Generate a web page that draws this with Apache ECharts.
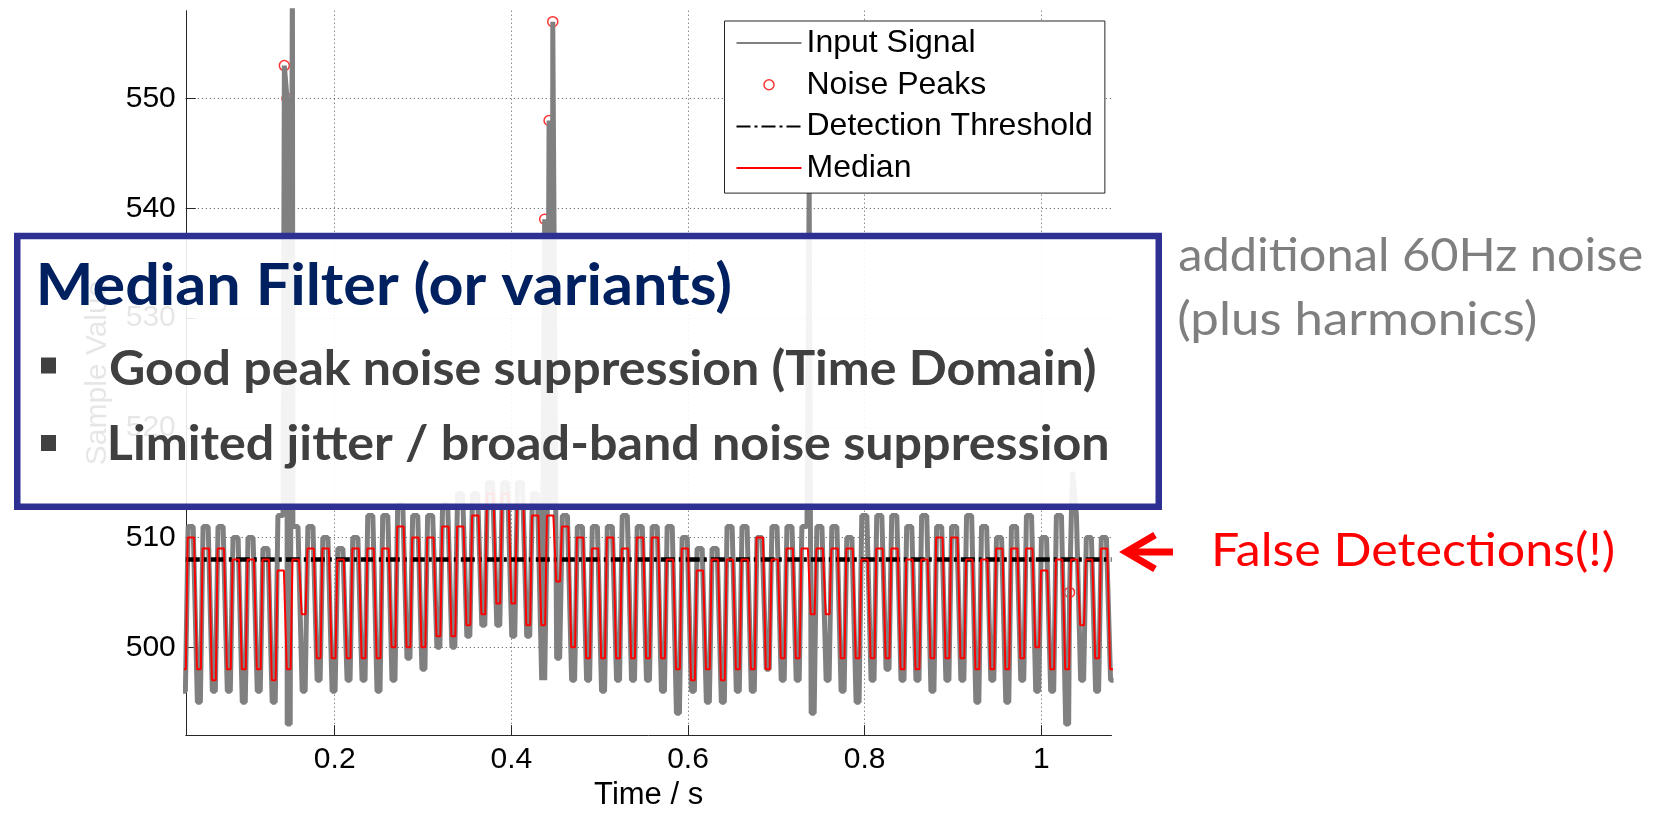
<!DOCTYPE html>
<html>
<head>
<meta charset="utf-8">
<script src="https://cdn.jsdelivr.net/npm/echarts@6/dist/echarts.min.js"></script>
<style>
html,body{margin:0;padding:0;background:#fff;}
#chart{width:1661px;height:816px;}
</style>
</head>
<body>
<div id="chart"></div>
<script>
// ---------------- data ----------------
const timeRange = [0.0314, 1.0795];      // s
const valueRange = [492, 558];
const cycleStart = 0.0462;               // time of median trough of cycle k = 0
const cyclePeriod = 0.01695;             // ~59 Hz mains period
const firstCycle = -1;                   // arrays start at cycle k = -1

// median filter output: trough level at each cycle, plateau level after it
const medianLo = [498,498,497,498,498,498,497,498,503,499,499,499,499,499,500,500,500,501,501,502,503,504,504,502,502,506,500,499,499,499,499,499,499,498,497,498,497,498,498,498,499,499,503,503,499,499,499,499,498,498,499,499,499,498,498,498,499,500,498,498,502,499,498];
const medianHi = [510,509,509,508,508,508,507,508,509,509,508,509,509,509,511,510,510,511,511,512,514,514,513,512,512,511,510,509,510,509,510,510,508,509,507,508,508,508,510,508,509,509,509,509,509,508,509,509,508,508,510,510,508,508,509,509,509,507,508,508,508,509];

// input signal: trough and peak of each mains cycle
const inputLo = [496,495,496,496,495,496,495,493,496,497,496,497,497,496,497,499,498,500,500,501,502,502,501,501,497,499,497,497,496,497,497,497,496,494,496,495,495,496,496,498,497,497,494,497,496,495,497,498,497,497,496,497,497,495,497,495,497,496,496,493,497,496,497];
const inputHi = [511,511,511,510,510,509,512,511,511,510,509,510,512,512,513,512,512,513,514,514,515,515,515,514,513,512,511,511,511,512,511,511,511,510,509,509,511,511,510,511,511,511,511,511,510,512,512,512,511,512,511,511,512,511,510,511,512,510,512,512,510,510];

// noise peaks (spikes) marked with circles
const noisePeakT = [0.1430, 0.1460, 0.1521, 0.4377, 0.4427, 0.4469, 0.7372, 1.0320];
const noisePeakV = [553, 550, 563, 539, 548, 557, 542, 505];
// unmarked spike of the input signal
const extraSpikeT = [1.0355];
const extraSpikeV = [516];

const threshold = 508;

const seriesNames = ['Input Signal', 'Noise Peaks', 'Detection Threshold', 'Median'];

// ---------------- waveform corner phases (fraction of a cycle) ----------------
const medianShape = { loA: -0.13, loB: 0.13, hiA: 0.25, hiB: 0.68 };
const inputShape  = { loA: -0.10, loB: 0.10, hiA: 0.28, hiB: 0.62 };

function cycleTime(i) { return cycleStart + (i + firstCycle) * cyclePeriod; }

function buildWave(lo, hi, shape) {
  const out = [];
  for (let i = 0; i < lo.length; i++) {
    const t = cycleTime(i);
    out.push([t + shape.loA * cyclePeriod, lo[i]]);
    out.push([t + shape.loB * cyclePeriod, lo[i]]);
    if (i < hi.length) {
      out.push([t + shape.hiA * cyclePeriod, hi[i]]);
      out.push([t + shape.hiB * cyclePeriod, hi[i]]);
    }
  }
  return out;
}

const medianData = buildWave(medianLo, medianHi, medianShape);
const inputData = buildWave(inputLo, inputHi, inputShape)
  .concat(noisePeakT.map((t, i) => [t, noisePeakV[i]]))
  .concat(extraSpikeT.map((t, i) => [t, extraSpikeV[i]]))
  .sort((a, b) => a[0] - b[0]);
const peakData = noisePeakT.map((t, i) => [t, noisePeakV[i]]);
const thresholdData = [[timeRange[0], threshold], [timeRange[1], threshold]];

// ---------------- overlay text helpers ----------------
const mctx = document.createElement('canvas').getContext('2d');
function fittedText(text, font, fill, left, right, baseline) {
  mctx.font = font;
  mctx.textBaseline = 'alphabetic';
  const m = mctx.measureText(text);
  const ink = m.actualBoundingBoxLeft + m.actualBoundingBoxRight;
  const s = (right - left) / ink;
  mctx.textBaseline = 'middle';
  const d = mctx.measureText('H').actualBoundingBoxDescent;
  return {
    type: 'text', z: 100, silent: true,
    x: left + m.actualBoundingBoxLeft * s, y: baseline - d, scaleX: s,
    style: { text: text, font: font, fill: fill, textAlign: 'left', textVerticalAlign: 'middle' }
  };
}

const axisFont = 'Liberation Sans';
const axisColor = '#262626';
const gridLine = { show: true, showMinLine: false, showMaxLine: false,
  lineStyle: { color: '#555', width: 1, type: [1, 3] } };
const noSymbol = { opacity: 0 };

const chart = echarts.init(document.getElementById('chart'), null, { renderer: 'canvas' });
chart.setOption({
  animation: false,
  backgroundColor: '#fff',
  grid: { left: 185.8, right: 549.5, top: 10.7, bottom: 74.3 },
  xAxis: {
    type: 'value', min: timeRange[0], max: timeRange[1], splitNumber: 5,
    name: 'Time / s', nameLocation: 'middle', nameGap: 42,
    nameTextStyle: { fontFamily: axisFont, fontSize: 31, color: '#000' },
    axisLine: { show: true, onZero: false, lineStyle: { color: axisColor, width: 1 } },
    axisTick: { show: true, inside: true, length: 10, lineStyle: { color: axisColor } },
    axisLabel: { fontFamily: axisFont, fontSize: 30, color: '#000', margin: 10,
      showMinLabel: false, showMaxLabel: false },
    splitLine: gridLine
  },
  yAxis: {
    type: 'value', min: valueRange[0], max: valueRange[1], splitNumber: 5,
    name: 'Sample Value', nameLocation: 'middle', nameGap: 73,
    nameTextStyle: { fontFamily: axisFont, fontSize: 30, color: '#000' },
    axisLine: { show: true, onZero: false, lineStyle: { color: axisColor, width: 1 } },
    axisTick: { show: true, inside: true, length: 10, lineStyle: { color: axisColor } },
    axisLabel: { fontFamily: axisFont, fontSize: 30, color: '#000', margin: 10,
      showMinLabel: false, showMaxLabel: false },
    splitLine: gridLine
  },
  legend: {
    orient: 'vertical', left: 724.5, top: 21,
    padding: [6, 12, 9, 11], itemGap: 9.7, itemWidth: 65, itemHeight: 10,
    backgroundColor: '#fff', borderColor: '#262626', borderWidth: 1,
    textStyle: { fontFamily: axisFont, fontSize: 32, lineHeight: 32, color: '#000' },
    data: [
      { name: seriesNames[0], itemStyle: noSymbol, lineStyle: { width: 2 } },
      { name: seriesNames[1], icon: 'circle',
        itemStyle: { color: 'rgba(0,0,0,0)', borderColor: '#ff0000', borderWidth: 1.5 } },
      { name: seriesNames[2], itemStyle: noSymbol },
      { name: seriesNames[3], itemStyle: noSymbol }
    ]
  },
  series: [
    { name: seriesNames[0], type: 'line', data: inputData, symbol: 'none', clip: true,
      lineStyle: { color: '#808080', width: 5 }, itemStyle: { color: '#808080' } },
    { name: seriesNames[1], type: 'scatter', data: peakData, symbol: 'circle', symbolSize: 10, clip: true,
      itemStyle: { color: 'rgba(0,0,0,0)', borderColor: '#ff0000', borderWidth: 1.5 } },
    { name: seriesNames[2], type: 'line', data: thresholdData, symbol: 'none',
      lineStyle: { color: '#000', width: 4.5, type: [14, 4, 3, 4] }, itemStyle: { color: '#000' } },
    { name: seriesNames[3], type: 'line', data: medianData, symbol: 'none', clip: true,
      lineStyle: { color: '#ff0000', width: 2 }, itemStyle: { color: '#ff0000' } }
  ],
  graphic: [
    { type: 'rect', z: 99, silent: true,
      shape: { x: 17.25, y: 236, width: 1141.5, height: 270.75 },
      style: { fill: 'rgba(255,255,255,0.9)', stroke: '#2e3192', lineWidth: 6.5 } },
    fittedText('Median Filter (or variants)', 'bold 58px Lato', '#002060', 40, 730, 305),
    { type: 'rect', z: 100, silent: true, shape: { x: 41, y: 357.5, width: 15, height: 16 }, style: { fill: '#404040' } },
    fittedText('Good peak noise suppression (Time Domain)', 'bold 47px Lato', '#404040', 110, 1095.6, 385),
    { type: 'rect', z: 100, silent: true, shape: { x: 41, y: 435, width: 15, height: 16 }, style: { fill: '#404040' } },
    fittedText('Limited jitter / broad-band noise suppression', 'bold 47px Lato', '#404040', 110, 1107, 460),
    fittedText('additional 60Hz noise', '47px Lato', '#7f7f7f', 1179.3, 1641.3, 271),
    fittedText('(plus harmonics)', '47px Lato', '#7f7f7f', 1179.3, 1535.7, 335),
    fittedText('False Detections(!)', '47px Lato', '#ff0000', 1215.2, 1613.5, 566),
    { type: 'polyline', z: 100, silent: true,
      shape: { points: [[1155, 535], [1126, 552], [1155, 569]] },
      style: { stroke: '#ff0000', lineWidth: 7, fill: null, lineJoin: 'miter', lineCap: 'butt' } },
    { type: 'line', z: 100, silent: true,
      shape: { x1: 1128, y1: 552, x2: 1173, y2: 552 },
      style: { stroke: '#ff0000', lineWidth: 7, lineCap: 'butt' } }
  ]
});
</script>
</body>
</html>
